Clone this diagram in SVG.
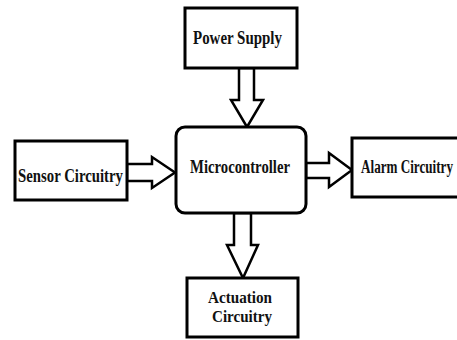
<svg xmlns="http://www.w3.org/2000/svg" width="457" height="340" viewBox="0 0 457 340">
  <style>
    .box { fill: #ffffff; stroke: #000000; stroke-width: 3; }
    .arrow { fill: #ffffff; stroke: #000000; stroke-width: 2.5; stroke-linejoin: miter; }
    .label { font-family: "Liberation Serif", "Times New Roman", serif; font-weight: bold; font-size: 18px; fill: #111111; }
    .label-sm { font-size: 17px; }
  </style>
  <rect width="457" height="340" fill="#ffffff"/>

  <!-- block arrows between the modules -->
  <g id="connectors">
    <polygon class="arrow" points="239,68 254,68 254,100 263,100 247,127 231,100 239,100"/>
    <polygon class="arrow" points="127,164 152,164 152,157 175,172.5 152,188 152,181 127,181"/>
    <polygon class="arrow" points="306,163 329,163 329,153 352,170 329,187 329,178 306,178"/>
    <polygon class="arrow" points="234,213 251,213 251,245 258,245 243,278 227,245 234,245"/>
  </g>

  <g id="power-supply">
    <rect class="box" x="185" y="8" width="112" height="60"/>
    <text class="label" x="193" y="44" textLength="89" lengthAdjust="spacingAndGlyphs">Power Supply</text>
  </g>

  <g id="sensor-circuitry">
    <rect class="box" x="15" y="141" width="112" height="59"/>
    <text class="label" x="18" y="182" textLength="105" lengthAdjust="spacingAndGlyphs">Sensor Circuitry</text>
  </g>

  <g id="microcontroller">
    <rect class="box" x="176" y="127" width="130" height="86" rx="9" ry="9"/>
    <text class="label" x="190" y="173" textLength="100" lengthAdjust="spacingAndGlyphs">Microcontroller</text>
  </g>

  <g id="alarm-circuitry">
    <rect class="box" x="352" y="138" width="110" height="59"/>
    <text class="label" x="361" y="173" textLength="92" lengthAdjust="spacingAndGlyphs">Alarm Circuitry</text>
  </g>

  <g id="actuation-circuitry">
    <rect class="box" x="187" y="278" width="111" height="59"/>
    <text class="label label-sm" x="208" y="303" textLength="64" lengthAdjust="spacingAndGlyphs">Actuation</text>
    <text class="label label-sm" x="212" y="322" textLength="60" lengthAdjust="spacingAndGlyphs">Circuitry</text>
  </g>
</svg>
